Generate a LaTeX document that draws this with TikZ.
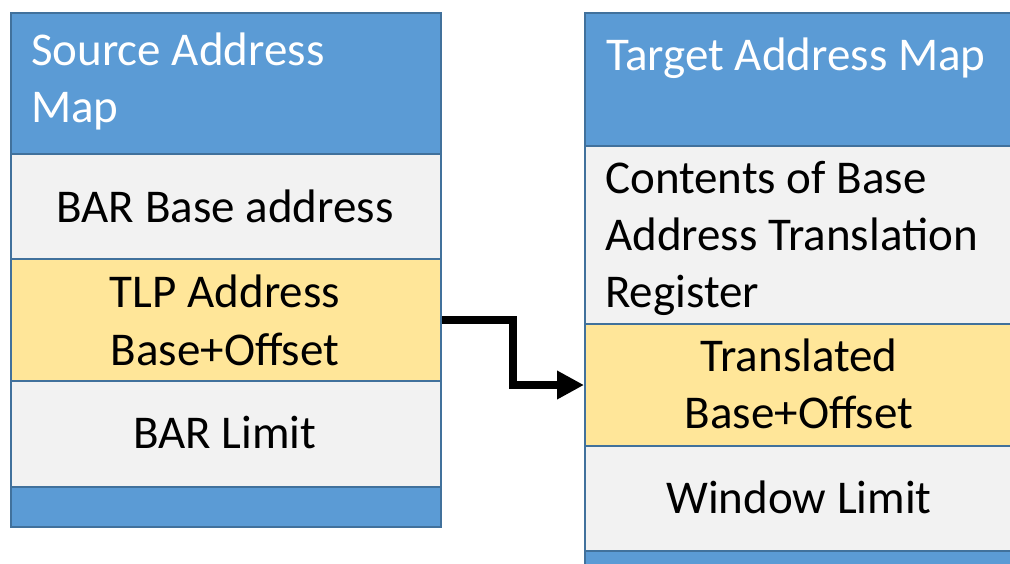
\documentclass[tikz,border=0pt]{standalone}
\usepackage{fontspec}
\setmainfont{Carlito}
\usetikzlibrary{arrows.meta,calc}
\definecolor{hdrblue}{HTML}{5B9BD5}
\definecolor{edgeblue}{HTML}{41719C}
\definecolor{cellgray}{HTML}{F2F2F2}
\definecolor{cellyellow}{HTML}{FFE699}
\tikzset{
  cellbox/.style={draw=edgeblue, line width=2pt, rectangle, inner sep=0pt, anchor=north west},
  hdr/.style={cellbox, fill=hdrblue},
  grey/.style={cellbox, fill=cellgray},
  yel/.style={cellbox, fill=cellyellow},
  txt/.style={inner sep=0pt, font=\fontsize{47}{57}\selectfont},
  wtxt/.style={txt, text=white},
  flow/.style={line width=8pt, line join=miter, -{Triangle[length=27pt,width=27pt]}}
}
\begin{document}
\begin{tikzpicture}[x=1pt,y=-1pt]
\useasboundingbox (0,0) rectangle (1010,563);
\clip (0,0) rectangle (1010,563);
\fill[white] (0,0) rectangle (1010,563);
% left column
\node[hdr,  minimum width=430pt, minimum height=141pt] (sh) at (10,12) {};
\node[grey, minimum width=430pt, minimum height=105pt] (sb) at (10,153) {};
\node[yel,  minimum width=430pt, minimum height=122pt] (st) at (10,258) {};
\node[grey, minimum width=430pt, minimum height=106pt] (sl) at (10,380) {};
\node[hdr,  minimum width=430pt, minimum height=40pt]  (sf) at (10,486) {};
% right column
\node[hdr,  minimum width=432pt, minimum height=133pt] (th) at (584,12) {};
\node[grey, minimum width=432pt, minimum height=178pt] (tc) at (584,145) {};
\node[yel,  minimum width=432pt, minimum height=122pt] (tt) at (584,323) {};
\node[grey, minimum width=432pt, minimum height=105pt] (tw) at (584,445) {};
\node[hdr,  minimum width=432pt, minimum height=60pt]  (tf) at (584,550) {};
% texts
\node[wtxt, anchor=base west] (sh1) at (31,65) {Source Address};
\node[wtxt, anchor=base west] (sh2) at (31,122) {Map};
\node[txt, anchor=base] (sb1) at (225,222) {BAR Base address};
\node[txt, anchor=base] (st1) at (225,307) {TLP Address};
\node[txt, anchor=base] (st2) at (225,365) {Base+Offset};
\node[txt, anchor=base] (sl1) at (225,448) {BAR Limit};
\node[wtxt, anchor=base west] (th1) at (606,70) {Target Address Map};
\node[txt, anchor=base west] (tc1) at (605,193) {Contents of Base};
\node[txt, anchor=base west] (tc2) at (605,250) {Address Translation};
\node[txt, anchor=base west] (tc3) at (605,307) {Register};
\node[txt, anchor=base] (tt1) at (799,371) {Translated};
\node[txt, anchor=base] (tt2) at (799,428) {Base+Offset};
\node[txt, anchor=base] (tw1) at (799,513) {Window Limit};
% connector
\draw[flow] (st.east) -| ($(st.east)!0.5!(tt.west)$) |- (tt.west);
\end{tikzpicture}
\end{document}
